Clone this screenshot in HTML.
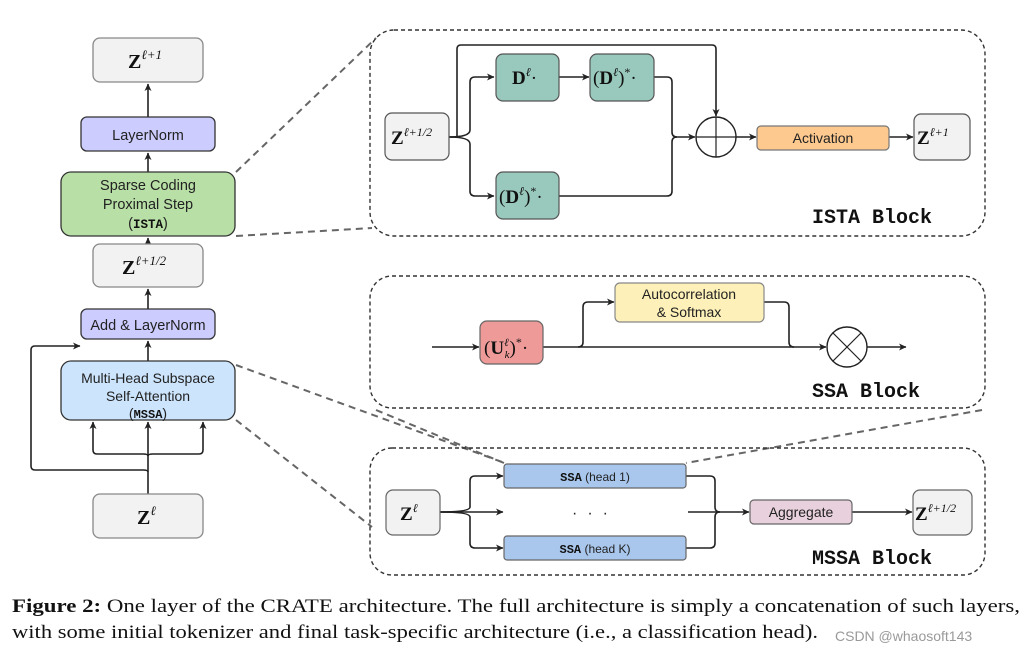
<!DOCTYPE html>
<html><head><meta charset="utf-8"><style>
html,body{margin:0;padding:0;background:#fff;}
svg{display:block}
.s{font-family:"Liberation Sans",sans-serif;fill:#222}
.m{font-family:"Liberation Serif",serif;fill:#111}
.mono{font-family:"Liberation Mono",monospace;font-weight:bold;fill:#111}
</style></head><body>
<svg width="1035" height="654" viewBox="0 0 1035 654" xmlns="http://www.w3.org/2000/svg">
<defs>
<marker id="a" markerWidth="8" markerHeight="8" refX="7" refY="4" orient="auto" markerUnits="userSpaceOnUse">
<path d="M0,0.5 L7.5,4 L0,7.5 L2,4 Z" fill="#222"/></marker>
</defs>
<g fill="none" stroke="#222" stroke-width="1.6">
<line x1="148" y1="117" x2="148" y2="84" marker-end="url(#a)"/>
<line x1="148" y1="172" x2="148" y2="153" marker-end="url(#a)"/>
<line x1="148" y1="244" x2="148" y2="238" marker-end="url(#a)"/>
<line x1="148" y1="309" x2="148" y2="289" marker-end="url(#a)"/>
<line x1="148" y1="361" x2="148" y2="341" marker-end="url(#a)"/>
<line x1="148" y1="494" x2="148" y2="422" marker-end="url(#a)"/>
<path d="M148,456 Q148,454 143,454 L97,454 Q93,454 93,450 L93,422" marker-end="url(#a)"/>
<path d="M148,456 Q148,454 153,454 L199,454 Q203,454 203,450 L203,422" marker-end="url(#a)"/>
<path d="M148,472 Q148,470 143,470 L35,470 Q31,470 31,466 L31,350 Q31,346 35,346 L80,346" marker-end="url(#a)"/>
</g>
<g stroke="#333" stroke-width="1.3">
<rect x="93" y="38" width="110" height="44" rx="7" fill="#f2f2f2" stroke="#888"/>
<rect x="81" y="117" width="134" height="34" rx="6" fill="#ccccff"/>
<rect x="61" y="172" width="174" height="64" rx="10" fill="#b8dfa6"/>
<rect x="93" y="244" width="110" height="43" rx="7" fill="#f2f2f2" stroke="#888"/>
<rect x="81" y="309" width="134" height="30" rx="6" fill="#ccccff"/>
<rect x="61" y="361" width="174" height="59" rx="10" fill="#cce4fc"/>
<rect x="93" y="494" width="110" height="44" rx="7" fill="#f2f2f2" stroke="#888"/>
</g>
<text x="128" y="68" class="m" font-size="20" font-weight="bold">Z<tspan font-size="13" dy="-9" font-style="italic" font-weight="normal">ℓ+1</tspan></text>
<text x="148" y="140" class="s" font-size="14.5" text-anchor="middle">LayerNorm</text>
<text x="148" y="190" class="s" font-size="14.5" text-anchor="middle">Sparse Coding</text>
<text x="148" y="209" class="s" font-size="14.5" text-anchor="middle">Proximal Step</text>
<text x="148" y="228" class="s" font-size="14.5" text-anchor="middle">(<tspan class="mono" font-size="12.5">ISTA</tspan>)</text>
<text x="122" y="274" class="m" font-size="20" font-weight="bold">Z<tspan font-size="13" dy="-9" font-style="italic" font-weight="normal">ℓ+1/2</tspan></text>
<text x="148" y="330" class="s" font-size="14.5" text-anchor="middle">Add &amp; LayerNorm</text>
<text x="148" y="383" class="s" font-size="14" text-anchor="middle">Multi-Head Subspace</text>
<text x="148" y="401" class="s" font-size="14" text-anchor="middle">Self-Attention</text>
<text x="148" y="418" class="s" font-size="14" text-anchor="middle">(<tspan class="mono" font-size="12">MSSA</tspan>)</text>
<text x="137" y="524" class="m" font-size="20" font-weight="bold">Z<tspan font-size="13" dy="-9" font-style="italic" font-weight="normal">ℓ</tspan></text>

<g stroke="#666" stroke-width="2" stroke-dasharray="7,5" fill="none">
<line x1="236" y1="172" x2="376" y2="38"/>
<line x1="236" y1="236" x2="372" y2="228"/>
<line x1="236" y1="365" x2="502" y2="462"/>
<line x1="236" y1="420" x2="372" y2="527"/>
<line x1="376" y1="410" x2="504" y2="463"/>
<line x1="982" y1="410" x2="686" y2="463"/>
</g>
<g stroke="#333" stroke-width="1.4" stroke-dasharray="4,3" fill="none">
<rect x="370" y="30" width="615" height="206" rx="24"/>
<rect x="370" y="276" width="615" height="132" rx="22"/>
<rect x="370" y="448" width="615" height="127" rx="22"/>
</g>

<g fill="none" stroke="#222" stroke-width="1.6">
<path d="M449,137 L457,137 L457,49 Q457,45 461,45 L712,45 Q716,45 716,49 L716,116" marker-end="url(#a)"/>
<path d="M449,137 Q470,137 470,130 L470,82 Q470,77 475,77 L494,77" marker-end="url(#a)"/>
<path d="M449,137 Q470,137 470,144 L470,191 Q470,196 475,196 L494,196" marker-end="url(#a)"/>
<line x1="559" y1="77" x2="589" y2="77" marker-end="url(#a)"/>
<path d="M654,77 L667,77 Q672,77 672,82 L672,132 Q672,137 677,137 L695,137" marker-end="url(#a)"/>
<path d="M559,196 L667,196 Q672,196 672,191 L672,142 Q672,137 677,137"/>
<line x1="736" y1="137" x2="756" y2="137" marker-end="url(#a)"/>
<line x1="889" y1="137" x2="913" y2="137" marker-end="url(#a)"/>
</g>
<circle cx="716" cy="137" r="20" fill="none" stroke="#222" stroke-width="1.4"/>
<line x1="696" y1="137" x2="736" y2="137" stroke="#222" stroke-width="1.2"/>
<line x1="716" y1="117" x2="716" y2="157" stroke="#222" stroke-width="1.2"/>
<g stroke="#555" stroke-width="1.2">
<rect x="385" y="113" width="64" height="47" rx="7" fill="#f2f2f2"/>
<rect x="496" y="54" width="63" height="47" rx="7" fill="#99c8bc"/>
<rect x="590" y="54" width="64" height="47" rx="7" fill="#99c8bc"/>
<rect x="496" y="172" width="63" height="47" rx="7" fill="#99c8bc"/>
<rect x="757" y="126" width="132" height="24" rx="4" fill="#fdc98f" stroke="#777"/>
<rect x="914" y="114" width="56" height="46" rx="7" fill="#f2f2f2"/>
</g>
<text x="391" y="144" class="m" font-size="19" font-weight="bold">Z<tspan font-size="12" dy="-8" font-style="italic" font-weight="normal">ℓ+1/2</tspan></text>
<text x="512" y="84" class="m" font-size="19" font-weight="bold">D<tspan font-size="12" dy="-8" font-style="italic" font-weight="normal">ℓ</tspan><tspan dy="8" font-weight="normal">·</tspan></text>
<text x="593" y="84" class="m" font-size="19" font-weight="bold"><tspan font-weight="normal">(</tspan>D<tspan font-size="12" dy="-8" font-style="italic" font-weight="normal">ℓ</tspan><tspan dy="8" font-weight="normal">)</tspan><tspan font-size="12" dy="-8" font-weight="normal">*</tspan><tspan dy="8" font-weight="normal">·</tspan></text>
<text x="499" y="203" class="m" font-size="19" font-weight="bold"><tspan font-weight="normal">(</tspan>D<tspan font-size="12" dy="-8" font-style="italic" font-weight="normal">ℓ</tspan><tspan dy="8" font-weight="normal">)</tspan><tspan font-size="12" dy="-8" font-weight="normal">*</tspan><tspan dy="8" font-weight="normal">·</tspan></text>
<text x="823" y="143" class="s" font-size="14" text-anchor="middle">Activation</text>
<text x="917" y="144" class="m" font-size="19" font-weight="bold">Z<tspan font-size="12" dy="-8" font-style="italic" font-weight="normal">ℓ+1</tspan></text>
<text x="812" y="223" class="mono" font-size="20">ISTA Block</text>

<g fill="none" stroke="#222" stroke-width="1.6">
<line x1="432" y1="347" x2="479" y2="347" marker-end="url(#a)"/>
<line x1="543" y1="347" x2="826" y2="347" marker-end="url(#a)"/>
<path d="M578,347 Q583,347 583,342 L583,307 Q583,302 588,302 L614,302" marker-end="url(#a)"/>
<path d="M764,302 L784,302 Q789,302 789,307 L789,342 Q789,347 794,347"/>
<line x1="867" y1="347" x2="906" y2="347" marker-end="url(#a)"/>
</g>
<circle cx="847" cy="347" r="20" fill="#fff" stroke="#222" stroke-width="1.4"/>
<line x1="833" y1="333" x2="861" y2="361" stroke="#222" stroke-width="1.2"/>
<line x1="861" y1="333" x2="833" y2="361" stroke="#222" stroke-width="1.2"/>
<rect x="480" y="321" width="63" height="43" rx="7" fill="#ee9a98" stroke="#666" stroke-width="1.2"/>
<rect x="615" y="283" width="149" height="39" rx="5" fill="#fdf0b8" stroke="#888" stroke-width="1.2"/>
<text x="484" y="354" class="m" font-size="19" font-weight="bold"><tspan font-weight="normal">(</tspan>U<tspan font-size="11" dy="-8" font-style="italic" font-weight="normal">ℓ</tspan><tspan font-size="11" dx="-4" dy="12" font-style="italic" font-weight="normal">k</tspan><tspan dy="-4" font-weight="normal">)</tspan><tspan font-size="12" dy="-8" font-weight="normal">*</tspan><tspan dy="8" font-weight="normal">·</tspan></text>
<text x="689" y="299" class="s" font-size="14" text-anchor="middle">Autocorrelation</text>
<text x="689" y="317" class="s" font-size="14" text-anchor="middle">&amp; Softmax</text>
<text x="812" y="397" class="mono" font-size="20">SSA Block</text>

<g fill="none" stroke="#222" stroke-width="1.6">
<path d="M440,512 Q470,512 470,507 L470,481 Q470,476 475,476 L503,476" marker-end="url(#a)"/>
<line x1="440" y1="512" x2="503" y2="512" marker-end="url(#a)"/>
<path d="M440,512 Q470,512 470,517 L470,543 Q470,548 475,548 L503,548" marker-end="url(#a)"/>
<path d="M686,476 L710,476 Q715,476 715,481 L715,507 Q715,512 720,512 L749,512" marker-end="url(#a)"/>
<path d="M686,548 L710,548 Q715,548 715,543 L715,517 Q715,512 720,512"/>
<line x1="688" y1="512" x2="720" y2="512"/>
<line x1="852" y1="512" x2="912" y2="512" marker-end="url(#a)"/>
</g>
<g stroke="#666" stroke-width="1.2">
<rect x="386" y="490" width="54" height="45" rx="7" fill="#f2f2f2"/>
<rect x="504" y="464" width="182" height="24" rx="3" fill="#a9c6ec"/>
<rect x="504" y="536" width="182" height="24" rx="3" fill="#a9c6ec"/>
<rect x="750" y="500" width="102" height="24" rx="4" fill="#e8d0dc"/>
<rect x="913" y="490" width="59" height="45" rx="7" fill="#f2f2f2"/>
</g>
<text x="400" y="520" class="m" font-size="19" font-weight="bold">Z<tspan font-size="12" dy="-8" font-style="italic" font-weight="normal">ℓ</tspan></text>
<text x="595" y="481" class="s" font-size="12" text-anchor="middle"><tspan class="mono" font-size="12">SSA</tspan> (head 1)</text>
<text x="595" y="553" class="s" font-size="12" text-anchor="middle"><tspan class="mono" font-size="12">SSA</tspan> (head K)</text>
<text x="595" y="518" class="s" font-size="16" text-anchor="middle" letter-spacing="10">···</text>
<text x="801" y="517" class="s" font-size="14" text-anchor="middle">Aggregate</text>
<text x="915" y="520" class="m" font-size="19" font-weight="bold">Z<tspan font-size="12" dy="-8" font-style="italic" font-weight="normal">ℓ+1/2</tspan></text>
<text x="812" y="564" class="mono" font-size="20">MSSA Block</text>

<text x="12" y="612" class="m" font-size="19" textLength="1008" lengthAdjust="spacingAndGlyphs"><tspan font-weight="bold">Figure 2:</tspan> One layer of the CRATE architecture. The full architecture is simply a concatenation of such layers,</text>
<text x="12" y="638" class="m" font-size="19" textLength="806" lengthAdjust="spacingAndGlyphs">with some initial tokenizer and final task-specific architecture (i.e., a classification head).</text>
<text x="835" y="641" font-family="Liberation Sans,sans-serif" font-size="14" fill="#999">CSDN @whaosoft143</text>
</svg>
</body></html>
